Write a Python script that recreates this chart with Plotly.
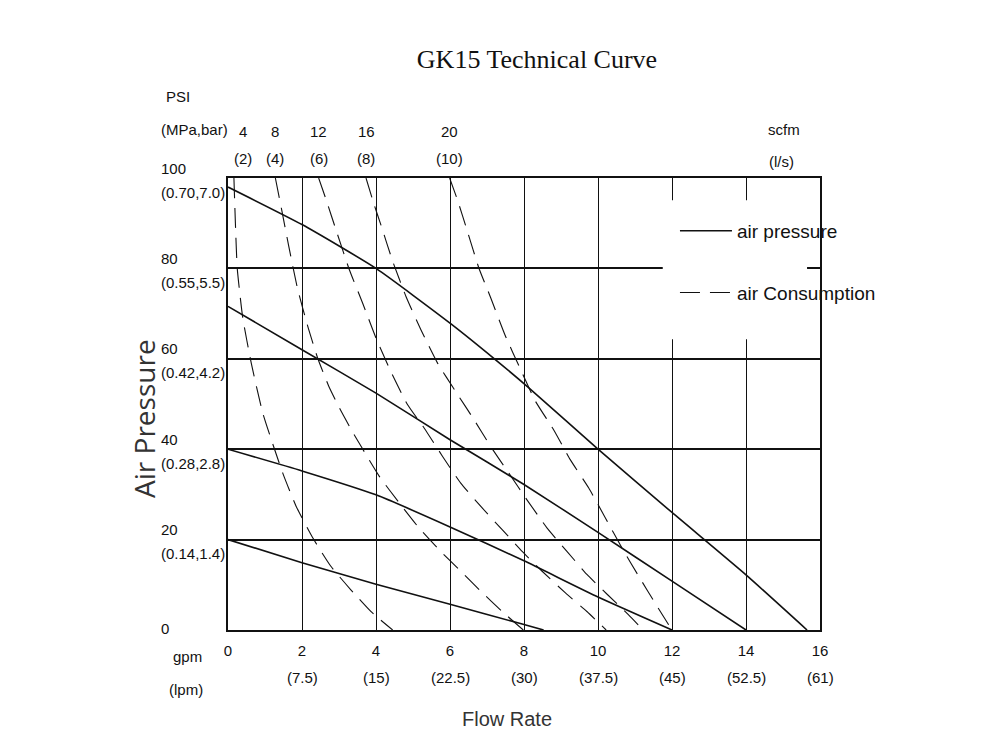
import plotly.graph_objects as go

# axis ticks
flow_gpm = [0, 2, 4, 6, 8, 10, 12, 14, 16]
flow_lpm = ["", "(7.5)", "(15)", "(22.5)", "(30)", "(37.5)", "(45)", "(52.5)", "(61)"]
psi_ticks = [0, 20, 40, 60, 80, 100]
psi_mpa_bar = ["", "(0.14,1.4)", "(0.28,2.8)", "(0.42,4.2)", "(0.55,5.5)", "(0.70,7.0)"]

# air pressure curves (solid), gpm vs psi
pressure_gpm = [
    [0, 2, 4, 6, 7.2, 8.1, 10, 12, 14, 15.65],
    [0, 2, 4, 6, 8, 10, 12, 14],
    [0, 2, 4, 6, 8, 10, 12],
    [0, 2, 4, 6, 8, 8.53],
]
pressure_psi = [
    [98, 89.7, 80, 67.9, 60, 53.8, 40, 26, 12.2, 0],
    [71.6, 62, 52.4, 42.1, 32.2, 21.6, 10.8, 0],
    [40, 35.2, 29.9, 22.8, 15.3, 7.3, 0],
    [20, 14.9, 10.1, 5.7, 1.2, 0],
]

# air consumption curves (dashed)
scfm = [4, 8, 12, 16, 20]
lps = [2, 4, 6, 8, 10]
consumption_gpm = [
    [0.16, 0.20, 0.25, 0.40, 0.63, 0.94, 1.48, 1.84, 2.29, 2.78, 3.32, 3.86, 4.45],
    [1.28, 1.45, 1.64, 1.88, 2.17, 2.43, 2.72, 3.02, 3.32, 3.62, 4.09, 4.63, 5.16, 5.70, 6.29, 6.83, 7.41, 7.98],
    [2.45, 2.66, 2.92, 3.28, 3.64, 4.0, 4.40, 4.85, 5.30, 5.80, 6.29, 6.87, 7.41, 7.95, 8.49, 9.12, 9.70, 10.22],
    [3.73, 3.95, 4.13, 4.45, 4.81, 5.21, 5.66, 6.15, 6.62, 7.1, 7.59, 8.08, 8.62, 9.16, 9.70, 10.26, 10.82, 11.22],
    [5.99, 6.2, 6.47, 6.78, 7.1, 7.5, 7.91, 8.31, 8.8, 9.25, 9.75, 10.2, 10.65, 11.1, 11.57, 12.0],
]
consumption_psi = [
    [100, 90, 80, 69, 59, 48, 34.7, 27.4, 20.4, 14.1, 8.9, 4.1, 0],
    [100, 93, 85, 75.5, 66.8, 60, 54, 49, 44.5, 40.3, 34, 28.1, 22.6, 17.8, 13.0, 8.6, 4.1, 0],
    [100, 95, 88.5, 79.7, 72.3, 64.6, 57.2, 49.9, 44.7, 38.4, 32.5, 27.0, 22.2, 17.4, 13.0, 8.2, 4.1, 0],
    [100, 94.1, 89.7, 81.6, 73.8, 66.5, 59.1, 52.8, 46.9, 40.6, 34.7, 28.8, 22.6, 17.4, 12.3, 7.8, 3.4, 0],
    [100, 95.2, 88.2, 80.1, 73.5, 65, 57.6, 50.6, 44.3, 37.7, 31.4, 24.8, 18.1, 11.9, 5.6, 0],
]

SANS = "Liberation Sans, Arial, sans-serif"
INK = "#111111"

fig = go.Figure()

for i, (xs, ys) in enumerate(zip(pressure_gpm, pressure_psi)):
    fig.add_trace(go.Scatter(
        x=xs, y=ys, mode="lines", name="air pressure",
        legendgroup="pressure", showlegend=(i == 0),
        line=dict(color=INK, width=1.6, shape="spline", smoothing=0.5),
        hoverinfo="skip"))

for i, (xs, ys) in enumerate(zip(consumption_gpm, consumption_psi)):
    fig.add_trace(go.Scatter(
        x=xs, y=ys, mode="lines", name="air Consumption",
        legendgroup="consumption", showlegend=(i == 0),
        line=dict(color=INK, width=1.1, dash="20px,10px", shape="spline", smoothing=0.5),
        hoverinfo="skip"))

# white patch behind the legend, hides the grid there
fig.add_shape(type="rect", xref="x", yref="y", x0=11.75, x1=15.65, y0=64.3, y1=95.1,
              fillcolor="white", line=dict(width=0), layer="above")

ann = []
lab_font = dict(family=SANS, size=15, color=INK)

# left axis labels, left aligned like the drawing
LEFT = (158 - 227) / 592
for v, sub in zip(psi_ticks, psi_mpa_bar):
    ann.append(dict(x=LEFT, xref="paper", y=v, yref="y", text=str(v), showarrow=False,
                    xanchor="left", yanchor="middle", yshift=10 if sub else 2, font=lab_font))
    if sub:
        ann.append(dict(x=LEFT, xref="paper", y=v, yref="y", text=sub, showarrow=False,
                        xanchor="left", yanchor="middle", yshift=-14, font=lab_font))

# second row of flow labels (lpm)
for g, l in zip(flow_gpm, flow_lpm):
    if l:
        ann.append(dict(x=g, xref="x", y=0, yref="paper", text=l, showarrow=False,
                        yanchor="middle", yshift=-47, font=lab_font))

# scfm (l/s) labels above each consumption curve
for xs, s, l in zip(consumption_gpm, scfm, lps):
    xpos = max(xs[0], 0.4)
    ann.append(dict(x=xpos, xref="x", y=1, yref="paper", text=str(s), showarrow=False,
                    yanchor="middle", yshift=47, font=lab_font))
    ann.append(dict(x=xpos, xref="x", y=1, yref="paper", text="(%d)" % l, showarrow=False,
                    yanchor="middle", yshift=20, font=lab_font))


# unit captions
def cap(text, px, py, anchor="left"):
    return dict(x=(px - 227) / 592, xref="paper", y=(629 - py) / 452, yref="paper",
                text=text, showarrow=False, xanchor=anchor, yanchor="middle", font=lab_font)


ann += [
    cap("PSI", 163, 95),
    cap("(MPa,bar)", 158, 128),
    cap("gpm", 170, 655),
    cap("(lpm)", 166, 688),
    cap("scfm", 783, 128, "center"),
    cap("(l/s)", 780, 160, "center"),
]

ann.append(dict(x=(143 - 227) / 592, xref="paper", y=0.467, yref="paper", text="Air Pressure",
                textangle=-90, showarrow=False, xanchor="center", yanchor="middle",
                font=dict(family="Open Sans, Lato, sans-serif", size=28, color="#333")))
ann.append(dict(x=0.471, xref="paper", y=-0.197, yref="paper", text="Flow Rate",
                showarrow=False, xanchor="center", yanchor="middle",
                font=dict(family=SANS, size=20, color="#333")))

fig.update_layout(
    width=1000, height=750,
    margin=dict(l=220, r=188, t=170, b=128),
    paper_bgcolor="white", plot_bgcolor="white",
    title=dict(text="GK15 Technical Curve", x=0.529, xanchor="center", y=0.932, yanchor="middle",
               font=dict(family="Liberation Serif, DejaVu Serif, serif", size=26, color=INK)),
    showlegend=True,
    legend=dict(x=0.755, y=0.925, xanchor="left", yanchor="top", bgcolor="rgba(0,0,0,0)",
                font=dict(family=SANS, size=19, color=INK), tracegroupgap=34,
                itemwidth=52),
    annotations=ann,
)

fig.update_xaxes(range=[0, 16], tickmode="array", tickvals=flow_gpm,
                 ticktext=["%g" % g for g in flow_gpm],
                 showgrid=True, gridcolor=INK, gridwidth=1, zeroline=False,
                 showline=True, linecolor=INK, linewidth=1.6, mirror=True,
                 ticks="", tickfont=lab_font, ticklabelstandoff=6, fixedrange=True)
fig.update_yaxes(range=[0, 100], tickmode="array", tickvals=psi_ticks, showticklabels=False,
                 showgrid=True, gridcolor=INK, gridwidth=1.6, zeroline=False,
                 showline=True, linecolor=INK, linewidth=1.6, mirror=True,
                 ticks="", fixedrange=True)

fig.write_html("out.html")
